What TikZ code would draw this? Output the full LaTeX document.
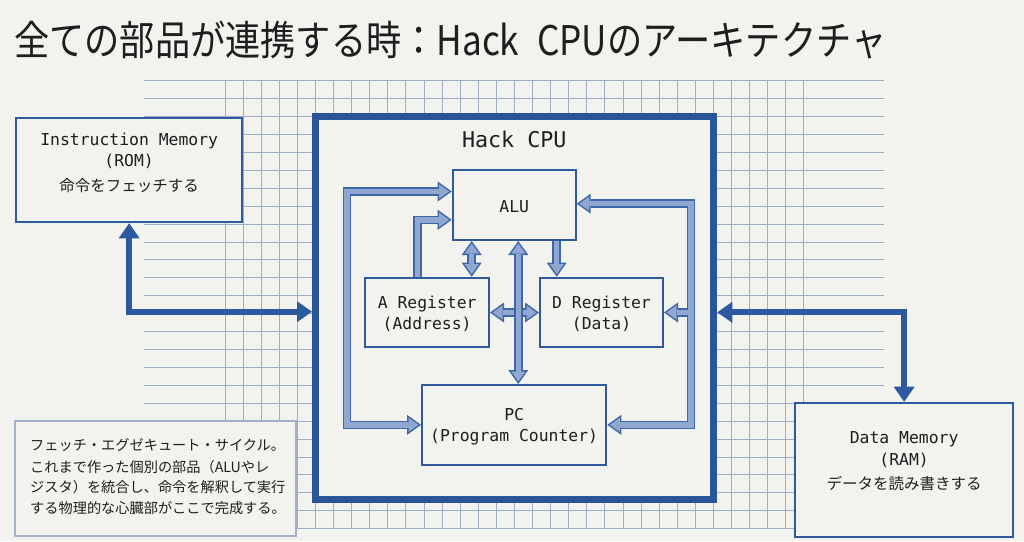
\documentclass[tikz,border=0pt]{standalone}
\usepackage{fontspec}
\usepackage{graphicx}
\setmainfont{Noto Sans CJK JP}
\newfontfamily\monof{DejaVu Sans Mono}
\usetikzlibrary{arrows.meta}
\definecolor{bg}{HTML}{F2F2EE}
\definecolor{gridc}{HTML}{9EAEC9}
\definecolor{boxblue}{HTML}{2F5A9C}
\definecolor{cpublue}{HTML}{2A5598}
\definecolor{bigblue}{HTML}{2C59A0}
\definecolor{hdark}{HTML}{3F66A6}
\definecolor{hfill}{HTML}{90A7D1}
\definecolor{notec}{HTML}{A3B2CA}
\definecolor{txt}{HTML}{1E1E1E}
\newcommand\MonoLbl{\monof\fontsize{16.4pt}{20pt}\selectfont}
\newcommand\JpLbl{\fontsize{15.5pt}{20pt}\selectfont}
\newcommand\hollowarrow[3]{\draw[hout,#1] #3; \draw[hin,#2] #3;}
\tikzset{
  OT/.tip={Triangle[length=14pt,width=20pt,line width=0pt]},
  IT/.tip={Triangle[length=9.9pt,width=14.2pt,line width=0pt]},
  BT/.tip={Triangle[length=15pt,width=21pt,line width=0pt]},
  box/.style={draw=boxblue, line width=2pt, fill=bg, inner sep=0pt, rectangle},
  gridline/.style={draw=gridc, line width=0.9pt},
  hout/.style={draw=hdark, line width=8.5pt},
  hin/.style={draw=hfill, line width=5.5pt},
  big/.style={draw=bigblue, line width=6pt, BT-BT},
  lbl/.style={inner sep=0pt, anchor=base, text=txt},
}
\begin{document}
\begin{tikzpicture}[x=1pt,y=-1pt]
\useasboundingbox (0,0) rectangle (1024,541);
\fill[bg] (0,0) rectangle (1024,541);

% grid
\foreach \k in {0,...,25}
  \draw[gridline] (144,{80.7+17.92*\k}) -- (884,{80.7+17.92*\k});
\foreach \j in {0,...,32}
  \draw[gridline] ({225+18.09*\j},80.7) -- ({225+18.09*\j},528.7);

% title
\node[inner sep=0pt, anchor=base west, text=txt] (title) at (14,55)
  {\fontsize{40pt}{40pt}\selectfont\scalebox{0.88}[1.02]{全ての部品が連携する時：Hack\hspace{0.5em}CPUのアーキテクチャ}};

% boxes
\node[box, minimum width=226.3pt, minimum height=104.6pt] (im) at (129.15,170) {};
\node[draw=cpublue, line width=7pt, fill=bg, inner sep=0pt, minimum width=398.3pt, minimum height=383pt] (cpu) at (514.65,308.3) {};
\node[box, minimum width=123pt, minimum height=69.7pt] (alu) at (514.2,205.15) {};
\node[box, minimum width=123.7pt, minimum height=69.6pt] (areg) at (427.15,312.5) {};
\node[box, minimum width=123pt, minimum height=69.6pt] (dreg) at (601.5,312.5) {};
\node[box, minimum width=184.3pt, minimum height=79.7pt] (pc) at (514.15,424.85) {};
\node[box, minimum width=217.7pt, minimum height=134.6pt] (dm) at (904.15,470) {};
\node[draw=notec, line width=2pt, fill=bg, inner sep=0pt, minimum width=281.3pt, minimum height=115.3pt] (note) at (155.65,478.65) {};

% texts
\node[lbl] (imt1) at (129.15,145) {\MonoLbl Instruction Memory};
\node[lbl] (imt2) at (129.15,166.8) {\MonoLbl (ROM)};
\node[lbl] (imt3) at (129.15,191.9) {\JpLbl 命令をフェッチする};
\node[lbl] (cput) at (514.3,147.8) {\monof\fontsize{21.7pt}{24pt}\selectfont Hack CPU};
\node[lbl] (alut) at (514.2,212.5) {\MonoLbl ALU};
\node[lbl] (at1) at (427.15,308.5) {\MonoLbl A Register};
\node[lbl] (at2) at (427.15,329.1) {\MonoLbl (Address)};
\node[lbl] (dt1) at (601.5,308.5) {\MonoLbl D Register};
\node[lbl] (dt2) at (601.5,329.1) {\MonoLbl (Data)};
\node[lbl] (pct1) at (514.15,420.8) {\MonoLbl PC};
\node[lbl] (pct2) at (514.15,441.8) {\MonoLbl (Program Counter)};
\node[lbl] (dmt1) at (904.15,443.5) {\MonoLbl Data Memory};
\node[lbl] (dmt2) at (904.15,465.8) {\MonoLbl (RAM)};
\node[lbl] (dmt3) at (904.15,489.9) {\JpLbl データを読み書きする};
\begin{scope}[every node/.style={inner sep=0pt, anchor=base west, text=txt, font=\fontsize{14.2pt}{16pt}\selectfont}]
\node (n1) at (30,450.4) {フェッチ・エグゼキュート・サイクル。};
\node (n2) at (30,472.1) {これまで作った個別の部品（ALUやレ};
\node (n3) at (30,492.7) {ジスタ）を統合し、命令を解釈して実行};
\node (n4) at (30,513.7) {する物理的な心臓部がここで完成する。};
\end{scope}

% big arrows
\draw[big] (im.south) |- (cpu.west |- 0,311.7);
\draw[big] (cpu.east |- 0,312.3) -| (dm.north);

% internal hollow arrows
\coordinate (lcol) at (347,310);
\coordinate (rcol) at (691,310);
\hollowarrow{OT-OT}{IT-IT, shorten <=2.6pt, shorten >=2.6pt}{(alu.west |- 0,191.5) -| (lcol) |- (pc.west)}
\hollowarrow{-OT}{-IT, shorten >=2.6pt}{(areg.north -| 417.5,0) |- (alu.west |- 0,219.8)}
\hollowarrow{OT-OT}{IT-IT, shorten <=2.6pt, shorten >=2.6pt}{(alu.south -| 471.7,0) -- (areg.north -| 471.7,0)}
\hollowarrow{-OT}{-IT, shorten >=2.6pt}{(alu.south -| 556.7,0) -- (dreg.north -| 556.7,0)}
\hollowarrow{OT-OT}{IT-IT, shorten <=2.6pt, shorten >=2.6pt}{(areg.east) -- (dreg.west)}
\hollowarrow{OT-OT}{IT-IT, shorten <=2.6pt, shorten >=2.6pt}{(alu.south -| 518.3,0) -- (pc.north -| 518.3,0)}
% right T
\draw[hout, OT-OT] (alu.east |- 0,203.7) -| (rcol) |- (pc.east);
\draw[hout, -OT] (rcol |- dreg.east) -- (dreg.east);
\draw[hin, IT-IT, shorten <=2.6pt, shorten >=2.6pt] (alu.east |- 0,203.7) -| (rcol) |- (pc.east);
\draw[hin, -IT, shorten >=2.6pt] (rcol |- dreg.east) -- (dreg.east);
\end{tikzpicture}
\end{document}
